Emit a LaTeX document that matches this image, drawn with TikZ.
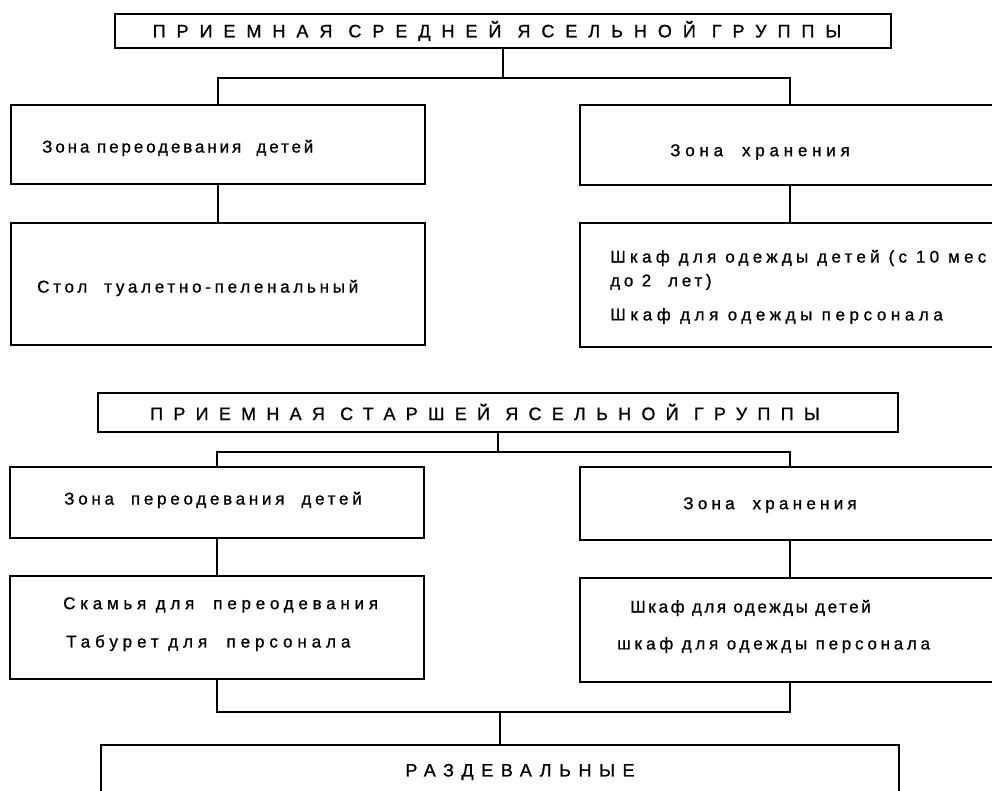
\documentclass[tikz,border=0pt]{standalone}
\usepackage{fontspec}
\setmainfont{Liberation Sans}
\newfontfamily\ttlfont[LetterSpace=61,FakeBold=1]{Liberation Sans}
\newfontfamily\txtfont[LetterSpace=22,FakeBold=1]{Liberation Sans}
\newcommand{\ls}[1]{\addfontfeature{LetterSpace=#1}}
\begin{document}
\begin{tikzpicture}[x=1pt,y=-1pt,
  box/.style={draw, line width=1.7pt, rectangle, inner sep=0pt},
  ttl/.style={font=\ttlfont\fontsize{18}{20}\selectfont, inner sep=0pt},
  txt/.style={font=\txtfont\fontsize{17}{19}\selectfont, inner sep=0pt},
  con/.style={line width=1.7pt}]
\useasboundingbox (0,0) rectangle (992,791);
\clip (0,0) rectangle (992,791);
% ---- section 1
\node[box, minimum width=776, minimum height=34] (T1) at (503,31) {};
\node[box, minimum width=414, minimum height=79] (A1) at (218,144.5) {};
\node[box, minimum width=420, minimum height=80] (B1) at (790,145) {};
\node[box, minimum width=414, minimum height=122] (A2) at (218,284) {};
\node[box, minimum width=420, minimum height=124] (B2) at (790,285) {};
\coordinate (j1) at (503,78);
\draw[con] (T1.south) -- (j1);
\draw[con] (A1.north) |- (j1) -| (B1.north);
\draw[con] (A1.south) -- (A2.north);
\draw[con] (B1.south) -- (B2.north);
\node[ttl] (t1) at (497,31) {ПРИЕМНАЯ СРЕДНЕЙ ЯСЕЛЬНОЙ ГРУППЫ};
\node[txt, anchor=west] (a1) at (42,148) {\ls{17}Зона переодевания\ \ детей};
\node[txt] (b1) at (760,152) {\ls{28}Зона\ \ хранения};
\node[txt, anchor=west] (a2) at (37,288) {Стол\ \ туалетно-пеленальный};
\node[txt, anchor=west] (b2a) at (610,258) {\ls{25}Шкаф для одежды детей (с 10 мес};
\node[txt, anchor=west] (b2b) at (610,282) {до 2\ \ лет)};
\node[txt, anchor=west] (b2c) at (610,316) {\ls{27}Шкаф для одежды персонала};
% ---- section 2
\node[box, minimum width=800, minimum height=39] (T2) at (498,412.5) {};
\node[box, minimum width=414, minimum height=71] (C1) at (217,502.5) {};
\node[box, minimum width=420, minimum height=73] (D1) at (790,503.5) {};
\node[box, minimum width=414, minimum height=103] (C2) at (217,627.5) {};
\node[box, minimum width=420, minimum height=104] (D2) at (790,630) {};
\node[box, minimum width=798, minimum height=85] (R) at (500,787.5) {};
\coordinate (j2) at (498,452);
\coordinate (j3) at (500,712);
\draw[con] (T2.south) -- (j2);
\draw[con] (C1.north) |- (j2) -| (D1.north);
\draw[con] (C1.south) -- (C2.north);
\draw[con] (D1.south) -- (D2.north);
\draw[con] (C2.south) |- (j3) -| (D2.south);
\draw[con] (j3) -- (R.north);
\node[ttl] (t2) at (485,412) {\ls{57}ПРИЕМНАЯ СТАРШЕЙ ЯСЕЛЬНОЙ ГРУППЫ};
\node[txt] (c1) at (213,500) {Зона\ \ переодевания\ \ детей};
\node[txt] (d1) at (770,505) {\ls{25}Зона\ \ хранения};
\node[txt, anchor=west] (c2a) at (63,605) {\ls{28}Скамья для\ \ переодевания};
\node[txt, anchor=west] (c2b) at (66,643) {\ls{29}Табурет для\ \ персонала};
\node[txt, anchor=west] (d2a) at (630,608) {\ls{15}Шкаф для одежды детей};
\node[txt, anchor=west] (d2b) at (617,645) {шкаф для одежды персонала};
\node[ttl] (r) at (520,772) {\ls{42}РАЗДЕВАЛЬНЫЕ};
\end{tikzpicture}
\end{document}
